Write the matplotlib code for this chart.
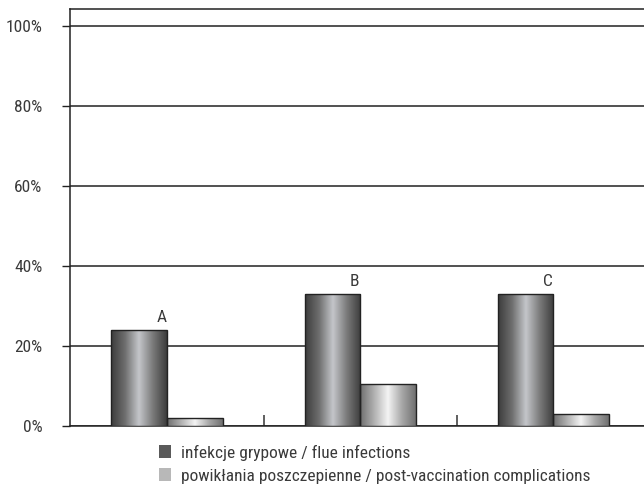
import numpy as np
from matplotlib import pyplot as plt
from matplotlib.patches import Patch
from matplotlib.colors import LinearSegmentedColormap

groups = ['A', 'B', 'C']
flu_infections = [24, 33, 33]
complications = [2, 10.5, 3]
series_labels = ['infekcje grypowe / flue infections',
                 'powikłania poszczepienne / post-vaccination complications']

plt.rcParams['font.family'] = ['Roboto Condensed', 'DejaVu Sans']
text_color = '#3a3a3a'

# cylinder-like shading for the bars
dark_cmap = LinearSegmentedColormap.from_list(
    'dark', ['#3c3c3c', '#6e6e6e', '#c4c6ca', '#7a7a7a', '#3c3c3c'])
light_cmap = LinearSegmentedColormap.from_list(
    'light', ['#6e6e6e', '#b0b0b0', '#f4f4f4', '#a8a8a8', '#707070'])

fig = plt.figure(figsize=(6.44, 4.90), dpi=100)
ax = fig.add_axes([70 / 644, 1 - 426 / 490, 1 - 70 / 644, (426 - 9) / 490])

x = np.arange(len(groups))
width = 0.29
bars1 = ax.bar(x - width / 2, flu_infections, width, color='#5a5a5a',
               edgecolor='#222222', linewidth=1.0, zorder=3)
bars2 = ax.bar(x + width / 2, complications, width, color='#b8b8b8',
               edgecolor='#222222', linewidth=1.0, zorder=3)

grad = np.linspace(0, 1, 256).reshape(1, -1)
for bars, cmap in [(bars1, dark_cmap), (bars2, light_cmap)]:
    for b in bars:
        x0, w, h = b.get_x(), b.get_width(), b.get_height()
        im = ax.imshow(grad, cmap=cmap, aspect='auto', zorder=3.5,
                       extent=[x0, x0 + w, 0, h], interpolation='bilinear')
        im.set_clip_path(b)
        b.set_facecolor('none')
        b.set_zorder(4)

for i, g in enumerate(groups):
    ax.text(x[i] - 0.03, flu_infections[i] + 1.2, g, ha='center', va='bottom',
            fontsize=12.5, color=text_color)

ax.set_xlim(-0.505, 2.469)
ax.set_ylim(0, 104.25)

ax.set_yticks([0, 20, 40, 60, 80, 100])
ax.set_yticklabels(['0%', '20%', '40%', '60%', '80%', '100%'])
ax.yaxis.grid(True, color='#222222', linewidth=1.1, zorder=1)
ax.tick_params(axis='y', length=6, width=1, color='#222222', labelsize=12.5,
               labelcolor=text_color, pad=14)

ax.set_xticks([0.5, 1.5])
ax.set_xticklabels([])
ax.tick_params(axis='x', direction='in', length=8, width=1.2, color='#444444')

for s in ['left', 'bottom', 'top']:
    ax.spines[s].set_color('#222222')
    ax.spines[s].set_linewidth(1.1)
ax.spines['right'].set_visible(False)

handles = [Patch(facecolor='#5a5a5a', edgecolor='none'),
           Patch(facecolor='#b8b8b8', edgecolor='none')]
fig.legend(handles, series_labels, loc='upper left',
           bbox_to_anchor=(143 / 644, 1 - 429 / 490), frameon=False,
           fontsize=12.5, labelcolor=text_color, handlelength=0.7,
           handleheight=0.7, handletextpad=0.6, labelspacing=0.45)

fig.savefig('out.png', dpi=100)
